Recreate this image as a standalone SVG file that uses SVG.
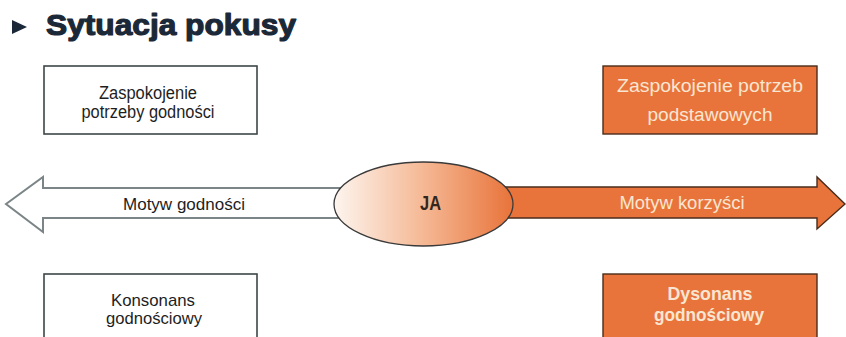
<svg xmlns="http://www.w3.org/2000/svg" width="846" height="337" viewBox="0 0 846 337">
  <defs>
    <linearGradient id="egoFill" x1="0" y1="0" x2="1" y2="0">
      <stop offset="0" stop-color="#fdf5ef"/>
      <stop offset="0.5" stop-color="#f5b894"/>
      <stop offset="1" stop-color="#e8733a"/>
    </linearGradient>
  </defs>
  <style>
    .plain { fill: #ffffff; stroke: #3d4649; stroke-width: 1.6; }
    .accent { fill: #e9743b; stroke: #4a2c1c; stroke-width: 1.4; }
    .dark { font-family: "Liberation Sans Narrow", "Liberation Sans", Arial, sans-serif; fill: #1e1e1e; text-anchor: middle; }
    .light { font-family: "Liberation Sans Narrow", "Liberation Sans", Arial, sans-serif; fill: #f8e6d2; text-anchor: middle; }
    .title { font-family: "Liberation Sans", Arial, sans-serif; font-weight: 900; fill: #1b2838; stroke: #1b2838; stroke-width: 1.2; stroke-linejoin: round; }
  </style>

  <!-- heading -->
  <g id="heading">
    <polygon points="12,20 27,27 12,34" fill="#1b2838"/>
    <text class="title" x="46" y="35" font-size="30" textLength="250" lengthAdjust="spacingAndGlyphs">Sytuacja pokusy</text>
  </g>

  <!-- connectors: the two motive arrows -->
  <g id="connectors">
    <g id="motive-dignity">
      <polygon points="6,204 43,177 43,188 345,188 345,218 43,218 43,232" fill="#ffffff" stroke="#7b8487" stroke-width="2" stroke-linejoin="miter"/>
      <text class="dark" x="184" y="210" font-size="17" textLength="122" lengthAdjust="spacingAndGlyphs">Motyw godności</text>
    </g>
    <g id="motive-benefit">
      <polygon points="500,187 817,187 817,177 845,204 817,229 817,218 500,218" class="accent"/>
      <text class="light" x="682" y="209" font-size="18" textLength="125" lengthAdjust="spacingAndGlyphs">Motyw korzyści</text>
    </g>
  </g>

  <!-- central self node -->
  <g id="ego">
    <ellipse cx="423.5" cy="204" rx="89.5" ry="42" fill="url(#egoFill)" stroke="#3a3a3a" stroke-width="1.3"/>
    <text x="430.5" y="210" font-family="Liberation Sans Narrow, Liberation Sans, Arial, sans-serif" font-weight="bold" font-size="21" fill="#33261c" text-anchor="middle" textLength="21" lengthAdjust="spacingAndGlyphs">JA</text>
  </g>

  <!-- upper left -->
  <g id="dignity-need">
    <rect class="plain" x="44" y="66" width="213" height="68"/>
    <text class="dark" x="148" y="99" font-size="17.5" textLength="98" lengthAdjust="spacingAndGlyphs">Zaspokojenie</text>
    <text class="dark" x="148" y="118" font-size="17.5" textLength="133" lengthAdjust="spacingAndGlyphs">potrzeby godności</text>
  </g>

  <!-- upper right -->
  <g id="basic-needs">
    <rect class="accent" x="603" y="66" width="214" height="68"/>
    <text class="light" x="710" y="92" font-size="19" textLength="186" lengthAdjust="spacingAndGlyphs">Zaspokojenie potrzeb</text>
    <text class="light" x="710" y="121" font-size="19" textLength="125" lengthAdjust="spacingAndGlyphs">podstawowych</text>
  </g>

  <!-- lower left -->
  <g id="consonance">
    <rect class="plain" x="44" y="274" width="213" height="80"/>
    <text class="dark" x="153" y="306" font-size="17" textLength="84" lengthAdjust="spacingAndGlyphs">Konsonans</text>
    <text class="dark" x="154" y="324" font-size="17" textLength="96" lengthAdjust="spacingAndGlyphs">godnościowy</text>
  </g>

  <!-- lower right -->
  <g id="dissonance">
    <rect class="accent" x="603" y="274" width="214" height="80"/>
    <text class="light" x="710" y="300" font-size="19" font-weight="bold" textLength="85" lengthAdjust="spacingAndGlyphs">Dysonans</text>
    <text class="light" x="709" y="321" font-size="19" font-weight="bold" textLength="110" lengthAdjust="spacingAndGlyphs">godnościowy</text>
  </g>
</svg>
